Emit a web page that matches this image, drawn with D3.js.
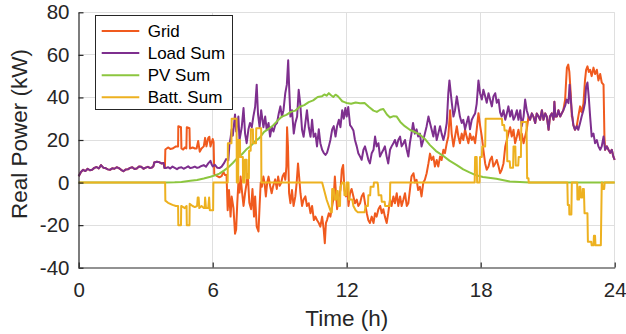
<!DOCTYPE html>
<html><head><meta charset="utf-8">
<script src="https://cdn.jsdelivr.net/npm/d3@7"></script>
<style>
html,body{margin:0;padding:0;background:#fff;}
svg{display:block;font-family:"Liberation Sans",Arial,Helvetica,sans-serif;}
</style></head>
<body><svg id="chart" width="626" height="334"></svg>
<script>
// ---- data (hours, kW) ----
const seriesNames = ["Grid", "Load Sum", "PV Sum", "Batt. Sum"];
const xTicks = [0, 6, 12, 18, 24];
const yTicks = [-40, -20, 0, 20, 40, 60, 80];
const xLabel = "Time (h)";
const yLabel = "Real Power (kW)";

const loadSum = [[0,3.0],[0.1,5.0],[0.2,6.0],[0.3,5.4],[0.4,6.5],[0.5,5.8],[0.6,6.0],[0.7,6.9],[0.8,7.3],[0.9,6.6],[1.0,8.2],[1.1,7.0],[1.2,6.8],[1.3,6.2],[1.4,6.0],[1.5,6.7],[1.6,6.5],[1.7,7.2],[1.8,6.8],[1.9,6.0],[2.0,5.3],[2.1,6.1],[2.2,6.2],[2.3,6.9],[2.4,7.2],[2.5,6.4],[2.6,6.6],[2.7,7.5],[2.8,7.4],[2.9,6.5],[3.0,7.0],[3.1,7.4],[3.2,6.8],[3.3,7.2],[3.35,7.8],[3.38,9.4],[3.5,9.8],[3.6,9.6],[3.7,9.0],[3.8,9.2],[3.84,6.8],[3.9,6.8],[4.0,7.2],[4.1,6.6],[4.2,7.5],[4.3,6.9],[4.4,6.3],[4.5,7.0],[4.6,7.2],[4.7,6.5],[4.8,7.0],[4.9,7.6],[5.0,6.8],[5.1,7.1],[5.2,7.5],[5.3,6.9],[5.4,7.2],[5.5,7.8],[5.6,8.2],[5.7,7.4],[5.8,9.0],[5.9,10.2],[5.95,8.6],[6.0,7.6],
[6.1,8.3],[6.2,7.0],[6.3,6.8],[6.4,7.5],[6.5,9.0],[6.6,11.0],[6.7,10.5],[6.75,18],[6.8,21],[6.85,25],[6.9,22],[7.0,32],[7.05,24],[7.15,31],[7.2,20],[7.3,26],[7.38,35],[7.45,23],[7.52,18.5],[7.6,25],[7.67,28],[7.75,26],[7.82,31],[7.9,35.5],[7.97,46],[8.03,32],[8.1,26],[8.17,34],[8.27,26],[8.35,31],[8.42,24.8],[8.5,28],[8.57,21.6],[8.64,26],[8.72,24],[8.8,27],[8.88,28],[8.96,32.6],[9.03,35.8],[9.1,31],[9.17,34],[9.25,42],[9.32,46],[9.38,57.5],[9.43,43],[9.48,31],[9.55,34],[9.63,23],[9.7,28],[9.78,31],[9.85,43.6],[9.92,37],[10.0,24.8],[10.07,21.5],[10.15,28],[10.22,34],[10.3,26],[10.38,21.5],[10.45,29.5],[10.52,21.5],[10.6,23],[10.67,17],[10.75,25],[10.82,18.5],[10.9,15.4],[10.97,14],[11.05,13],[11.12,14],[11.2,17],[11.27,20],[11.35,25],[11.42,26.5],[11.5,21.6],[11.57,26.5],[11.65,29.5],[11.72,26],[11.8,34],[11.87,30],[11.94,35],[12.0,31],[12.07,35.5],[12.15,27],[12.22,26],[12.3,24.5],[12.37,20],[12.45,17],[12.52,13.8],[12.6,12.2],[12.67,10.7],[12.75,15.4],[12.82,17],[12.9,13.8],[12.97,10.7],[13.04,9],[13.12,13.8],[13.2,15.4],[13.27,21.6],[13.34,17],[13.42,18.5],[13.49,12.2],[13.56,13.8],[13.64,15.4],[13.71,17],[13.79,12.2],[13.86,9],[13.94,15.4],[14.01,17],[14.09,18.5],[14.16,20],[14.24,17],[14.31,20],[14.39,21.6],[14.46,17],[14.54,18.5],[14.61,20],[14.69,15.4],[14.76,12.2],[14.83,18.5],[14.9,23],[14.97,28],[15.05,23],[15.13,25],[15.2,21.6],[15.28,23],[15.35,17],[15.43,20],[15.5,23],[15.58,26.5],[15.66,31],[15.73,28],[15.8,25],[15.88,21.6],[15.95,26.5],[16.03,20],[16.1,23],[16.18,26.5],[16.25,23],[16.33,20],[16.4,23],[16.48,28],[16.55,42],[16.6,48],[16.7,38],[16.78,31],[16.85,34],[16.93,40.5],[17.0,35.8],[17.07,31],[17.15,28],[17.22,29.5],[17.3,25],[17.37,28],[17.45,31],[17.52,25],[17.6,29.5],[17.67,31],[17.75,32.5],[17.82,37],[17.9,48],[17.97,42],[18.05,39],[18.12,43.6],[18.2,40.5],[18.27,37.5],[18.35,42],[18.42,39],[18.5,35.8],[18.57,40.5],[18.65,42],[18.72,37.5],[18.8,39],[18.87,33],[18.94,31],[19.02,34],[19.1,29.5],[19.17,32.5],[19.24,35.8],[19.32,31],[19.39,34],[19.47,29.5],[19.54,31],[19.62,34],[19.69,29.5],[19.77,34],[19.84,26.5],[19.92,31],[19.99,39],[20.06,34],[20.14,31],[20.21,29.5],[20.29,32.5],[20.36,31],[20.44,28],[20.51,32.5],[20.59,31],[20.66,29.5],[20.74,34],[20.81,29.5],[20.89,32.5],[20.96,31],[21.04,24.8],[21.1,31],[21.18,32.5],[21.26,29.5],[21.3,38],[21.34,31],[21.41,31],[21.48,34],[21.56,31],[21.63,32.5],[21.7,34],[21.78,36],[21.85,39],[21.93,37.3],[21.98,46],[22.05,37],[22.1,31],[22.15,27],[22.22,24.8],[22.3,26.5],[22.37,24.8],[22.45,28],[22.52,31],[22.6,34],[22.67,37.5],[22.72,45],[22.78,47],[22.84,40],[22.9,31],[22.97,21.6],[23.05,23],[23.12,18.5],[23.2,20],[23.27,17],[23.35,15.4],[23.42,17],[23.5,21.6],[23.57,15.4],[23.65,17],[23.72,15.4],[23.8,14],[23.87,15.4],[23.94,12.2],[24.0,10.7]];

const gridPower = [[0,3.0],[0.1,5.0],[0.2,6.0],[0.3,5.4],[0.4,6.5],[0.5,5.8],[0.6,6.0],[0.7,6.9],[0.8,7.3],[0.9,6.6],[1.0,8.2],[1.1,7.0],[1.2,6.8],[1.3,6.2],[1.4,6.0],[1.5,6.7],[1.6,6.5],[1.7,7.2],[1.8,6.8],[1.9,6.0],[2.0,5.3],[2.1,6.1],[2.2,6.2],[2.3,6.9],[2.4,7.2],[2.5,6.4],[2.6,6.6],[2.7,7.5],[2.8,7.4],[2.9,6.5],[3.0,7.0],[3.1,7.4],[3.2,6.8],[3.3,7.2],[3.35,7.8],[3.38,9.4],[3.5,9.8],[3.6,9.6],[3.7,9.0],[3.8,9.2],[3.84,6.8],[3.86,6.8],
[3.88,15.5],[4.0,16.5],[4.1,15.8],[4.2,16],[4.3,16.6],[4.35,17],[4.45,17],[4.46,26.5],[4.58,26],[4.6,16],[4.68,15.5],[4.75,16.5],[4.82,16],[4.84,26],[4.96,25.5],[4.98,16],[5.1,16.5],[5.2,16],[5.28,16],[5.35,19.5],[5.42,14.5],[5.5,16],[5.6,17],[5.66,21],[5.72,17],[5.8,21],[5.85,21.5],[5.9,17],[6.0,20.5],[6.04,19],[6.07,4.0],[6.2,3],[6.3,2.5],[6.4,3],[6.48,5],[6.55,3.5],[6.62,3.5],[6.67,-13],[6.73,-3.5],[6.8,-16],[6.85,-6.6],[6.93,-12],[7.0,-24],[7.05,-22],[7.1,-9.7],[7.15,0],[7.2,-4.7],[7.25,2.8],[7.3,-3],[7.38,-11],[7.45,-5],[7.52,0],[7.57,4],[7.64,-9.5],[7.72,-12.5],[7.78,-3],[7.85,-16],[7.9,-6.5],[7.97,-20.7],[8.05,-23],[8.1,-11],[8.15,0],[8.2,-2],[8.27,2.8],[8.32,0],[8.38,-6.5],[8.44,0],[8.5,2.8],[8.57,-1.5],[8.64,-5],[8.7,-2],[8.8,1.5],[8.87,-3],[8.93,2.8],[9.0,-1.5],[9.07,0],[9.13,3],[9.2,4.4],[9.25,1.3],[9.3,7.5],[9.33,26],[9.37,17],[9.42,-5],[9.48,-9.7],[9.55,-3.5],[9.62,-11],[9.7,-6.5],[9.76,0],[9.82,9],[9.87,2.8],[9.93,-5],[10.0,-11],[10.07,-8],[10.15,-6.5],[10.22,-11],[10.3,-9.7],[10.38,-14.4],[10.45,-11],[10.53,-17.6],[10.6,-16],[10.67,-17.6],[10.75,-19],[10.82,-20.7],[10.9,-16],[10.97,-22],[11.02,-28.5],[11.07,-19],[11.12,-17.6],[11.2,-14.4],[11.27,-16],[11.35,-11],[11.42,-6.5],[11.47,2.8],[11.52,-5],[11.57,-12.5],[11.65,-6.5],[11.72,-3.5],[11.78,6],[11.84,8.3],[11.9,-3.5],[11.97,-6.5],[12.03,-2],[12.08,-11],[12.15,-5],[12.22,-3],[12.3,-6.5],[12.37,-9.7],[12.45,-8],[12.52,-11],[12.6,-9.7],[12.67,-6.5],[12.75,-5],[12.82,-9.7],[12.9,-14.4],[12.97,-17.7],[13.04,-19],[13.12,-16],[13.2,-19],[13.27,-14.4],[13.34,-16],[13.42,-12.5],[13.5,-11],[13.57,-14.4],[13.64,-12.5],[13.71,-16],[13.79,-19],[13.86,-14.4],[13.94,-8],[14.01,-11],[14.09,-6.5],[14.16,-9.7],[14.24,-5],[14.31,-11],[14.39,-6.5],[14.46,-11],[14.54,-8],[14.61,-5],[14.69,-11],[14.76,-9.7],[14.83,-3.5],[14.9,2.8],[14.99,4.4],[15.06,0],[15.13,1.3],[15.2,-3.5],[15.28,-2],[15.35,-6.5],[15.43,0],[15.5,1.3],[15.58,4.4],[15.66,9],[15.73,13.6],[15.8,10.6],[15.88,12.2],[15.95,7.5],[16.03,10.6],[16.1,7.5],[16.18,12.2],[16.25,10.6],[16.33,15.4],[16.4,13.8],[16.48,18.5],[16.55,21.6],[16.63,34],[16.7,23],[16.78,17],[16.85,21.6],[16.93,26.5],[17.0,21.6],[17.07,18.5],[17.15,23],[17.22,20],[17.3,25],[17.37,21.6],[17.45,18.5],[17.52,23],[17.6,20],[17.67,21.6],[17.75,18.5],[17.82,24.8],[17.9,32.6],[17.97,27],[18.05,21.6],[18.12,15.4],[18.2,9],[18.27,6],[18.35,7.5],[18.42,10.6],[18.5,12.2],[18.57,7.5],[18.65,9],[18.72,10.6],[18.8,7.5],[18.87,4.4],[18.94,6],[19.02,9],[19.1,17],[19.17,20],[19.24,23],[19.32,26],[19.39,21.6],[19.47,24.8],[19.54,18.5],[19.62,21.6],[19.69,24.8],[19.77,20],[19.84,23],[19.92,18.5],[19.99,21.6],[20.06,24.8],
[20.14,31],[20.21,29.5],[20.29,32.5],[20.36,31],[20.44,28],[20.51,32.5],[20.59,31],[20.66,29.5],[20.74,34],[20.81,29.5],[20.89,32.5],[20.96,31],[21.04,24.8],[21.1,31],[21.18,32.5],[21.26,29.5],[21.3,38],[21.34,31],[21.41,31],[21.48,34],[21.56,31],[21.63,32.5],[21.7,34],[21.78,39],[21.82,46.7],[21.86,54],[21.92,55.4],[21.97,52],[22.03,42],[22.08,31],[22.1,31],[22.15,27],[22.22,24.8],[22.3,26.5],[22.37,31],[22.45,35.8],[22.52,33],[22.6,37],[22.67,48],[22.72,53],[22.78,54.6],[22.84,52],[22.9,53],[22.97,50],[23.05,54],[23.12,51],[23.2,53],[23.27,48],[23.35,51],[23.42,47],[23.5,46],[23.54,21.6],[23.57,15.4],[23.65,17],[23.72,15.4],[23.8,14],[23.87,15.4],[23.94,12.2],[24.0,10.7]];

const pvSum = [[0,0],[3.9,0],[4.3,0.1],[4.6,0.3],[5.0,0.8],[5.3,1.2],[5.6,1.9],[5.9,2.7],[6.1,3.4],[6.3,4.2],[6.5,5.6],[6.7,7.2],[6.9,9.2],[7.1,11.5],[7.3,13.2],[7.5,15.5],[7.7,17.2],[7.9,19.4],[8.1,21],[8.3,23.8],[8.5,25.2],[8.7,26.8],[8.9,29],[9.1,31],[9.3,31.8],[9.5,33.2],[9.7,33.8],[9.9,35.6],[10.1,36.4],[10.3,37.8],[10.5,38.6],[10.7,40.2],[10.9,40.6],[11.0,41.4],[11.1,40.8],[11.2,42],[11.3,41],[11.4,40.2],[11.5,41.3],[11.6,40.6],[11.7,39.4],[11.8,38.2],[11.9,37.8],[12.0,37.4],[12.2,37.0],[12.4,37.6],[12.6,37.3],[12.8,37.4],[13.0,35.5],[13.2,33.8],[13.35,33.2],[13.5,34.2],[13.64,34.6],[13.8,32],[13.94,30.6],[14.1,31.2],[14.24,31],[14.4,28.5],[14.6,26.5],[14.84,24.7],[15.0,24],[15.28,22.5],[15.5,20.5],[15.73,17.6],[16.0,14.8],[16.33,12.5],[16.6,10.3],[16.93,8.2],[17.22,6.2],[17.5,4.8],[17.8,3.4],[18.1,2.6],[18.7,1.8],[19.3,0.5],[20.2,0],[24,0]];

const battSum = [[0,0],[3.87,0],[3.88,-8.5],[4.0,-9.5],[4.2,-10.5],[4.35,-11],[4.45,-11],[4.46,-20],[4.58,-20],[4.59,-11],[4.75,-12],[4.83,-11],[4.84,-20],[4.96,-20],[4.97,-10],[5.1,-11],[5.2,-11.5],[5.3,-11],[5.33,-7],[5.37,-7],[5.4,-12],[5.5,-11],[5.6,-12],[5.64,-12],[5.66,-7],[5.7,-12],[5.8,-12],[5.84,-7],[5.87,-13],[6.02,-13],[6.03,0],[6.67,0],[6.68,18.5],[6.84,18.5],[6.85,30],[7.07,30],[7.08,0],[7.14,0],[7.15,20],[7.22,20],[7.23,12],[7.35,12],[7.36,0],[7.43,0],[7.44,10.7],[7.52,10.7],[7.53,2],[7.62,2],[7.63,15],[7.7,15],[7.71,25],[7.8,25],[7.81,18.5],[7.94,18.5],[7.95,25.5],[8.17,25.5],[8.18,0],[10.9,0],[10.95,-2],[11.0,-4],[11.1,-8],[11.2,-11],[11.3,-14],[11.33,-14],[11.35,-3],[11.42,-3],[11.45,-8],[11.52,-8],[11.55,-4],[11.6,-4],[11.63,-11],[11.7,-11],[11.72,-2],[11.8,0],[11.88,0],[11.9,-6],[11.98,-6],[12.0,0],[12.08,0],[12.1,-8],[12.25,-8],[12.3,-11],[12.4,-13],[12.5,-14],[12.8,-14],[12.85,-11],[12.95,-11],[12.97,-6],[13.05,-6],[13.07,-2],[13.2,-2],[13.22,0],[13.38,0],[13.4,-1],[13.43,-6],[13.55,-6],[13.57,-9],[13.7,-9],[13.72,-11],[13.93,-11],[13.95,0],[17.73,0],[17.75,12],[17.82,12],[17.84,0],[17.95,0],[17.97,12],[18.05,12],[18.07,17],[18.2,17],[18.22,30],[18.95,30],[18.97,27],[19.05,27],[19.07,24.5],[19.17,24.5],[19.19,10],[19.3,10],[19.32,7],[19.45,7],[19.47,17],[19.55,17],[19.57,8],[19.68,8],[19.7,12],[19.8,12],[19.82,28.5],[20.05,28.5],[20.08,2],[20.14,2],[20.15,0],[21.88,0],[21.9,-10.5],[21.96,-10.5],[21.97,-15],[22.06,-15],[22.08,0],[22.32,0],[22.33,-8],[22.4,-8],[22.42,-2],[22.46,-2],[22.48,-7],[22.55,-7],[22.57,-3],[22.62,-3],[22.65,-14.4],[22.78,-14.4],[22.8,-27.8],[22.95,-27.8],[22.97,-29.5],[23.05,-29.5],[23.07,-25],[23.12,-25],[23.14,-29.5],[23.38,-29.5],[23.42,0],[23.44,0],[23.46,-3],[23.53,-3],[23.55,0],[24,0]];

const seriesColors = ["#f05a1e", "#7e2f8e", "#8cc63f", "#edb120"];

// ---- drawing ----
const svg = d3.select("#chart");
const L = 78.7, R = 614.7, T = 12.3, B = 267.7;
const x = d3.scaleLinear().domain([0, 24]).range([L, R]);
const y = d3.scaleLinear().domain([-40, 80]).range([B, T]);
const snap = v => Math.floor(v) + 0.5;

// grid lines
const g = svg.append("g");
g.selectAll(".vg").data(xTicks.filter(d => d > 0)).join("line")
  .attr("x1", d => snap(x(d))).attr("x2", d => snap(x(d)))
  .attr("y1", T).attr("y2", B)
  .attr("stroke", "#dfdfdf").attr("stroke-width", 1);
g.selectAll(".hg").data(yTicks.filter(d => d > -40)).join("line")
  .attr("x1", L).attr("x2", R)
  .attr("y1", d => snap(y(d))).attr("y2", d => snap(y(d)))
  .attr("stroke", "#dfdfdf").attr("stroke-width", 1);

// series
const line = d3.line().x(d => x(d[0])).y(d => y(d[1]));
const allSeries = [gridPower, loadSum, pvSum, battSum];
allSeries.forEach((s, i) => {
  svg.append("path").datum(s)
    .attr("d", line)
    .attr("fill", "none")
    .attr("stroke", seriesColors[i])
    .attr("stroke-width", 2)
    .attr("stroke-linejoin", "round");
});

// axes
const axColor = "#262626";
const yAxis = svg.append("g").attr("transform", `translate(${snap(L)},0)`)
  .call(d3.axisLeft(y).tickValues(yTicks).tickSizeInner(-5).tickSizeOuter(0).tickPadding(9).tickFormat(d3.format("d")));
const xAxis = svg.append("g").attr("transform", `translate(0,${snap(B)})`)
  .call(d3.axisBottom(x).tickValues(xTicks).tickSizeInner(-5).tickSizeOuter(0).tickPadding(15).tickFormat(d3.format("d")));
[xAxis, yAxis].forEach(a => {
  a.select(".domain").attr("stroke", axColor).attr("stroke-width", 1.2);
  a.selectAll(".tick line").attr("stroke", axColor).attr("stroke-width", 1.2);
  a.selectAll(".tick text").attr("fill", "#262626").style("font-size", "20.5px")
   .style("font-family", '"Liberation Sans",Arial,sans-serif');
});
yAxis.selectAll(".tick text").text(d => d < 0 ? "-" + Math.abs(d) : d);

// axis labels
svg.append("text").attr("x", (L + R) / 2).attr("y", 326)
  .attr("text-anchor", "middle").attr("fill", "#262626")
  .style("font-size", "22.5px").text(xLabel);
svg.append("text").attr("transform", "translate(27,134) rotate(-90)")
  .attr("text-anchor", "middle").attr("fill", "#262626")
  .style("font-size", "22.5px").text(yLabel);

// legend
const lg = svg.append("g");
lg.append("rect").attr("x", 95.5).attr("y", 15.5).attr("width", 137).attr("height", 94)
  .attr("fill", "#fff").attr("stroke", "#262626").attr("stroke-width", 1);
seriesNames.forEach((n, i) => {
  const cy = 31 + i * 22.1;
  lg.append("line").attr("x1", 101.7).attr("x2", 139.3).attr("y1", cy).attr("y2", cy)
    .attr("stroke", seriesColors[i]).attr("stroke-width", 2);
  lg.append("text").attr("x", 147.7).attr("y", cy).attr("dy", "0.35em")
    .attr("fill", "#000").style("font-size", "17px").text(n);
});
</script>
</body></html>
